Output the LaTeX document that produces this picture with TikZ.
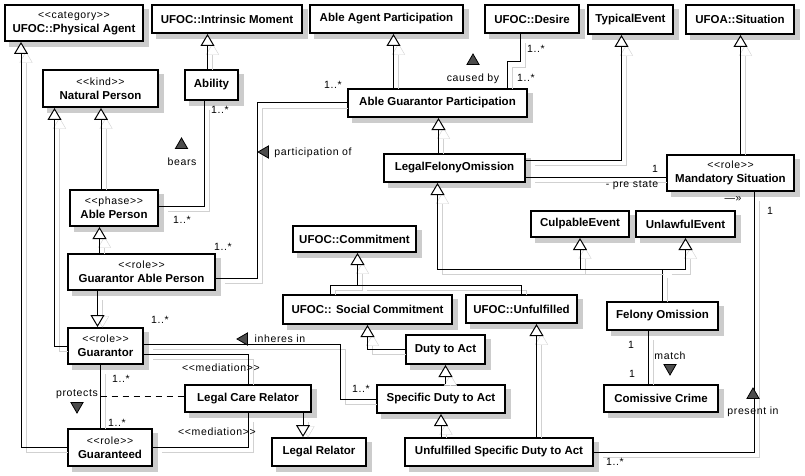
\documentclass[tikz,border=0pt]{standalone}
\usepackage{fontspec}
\setmainfont{Liberation Sans}
\newfontfamily\lblfont[LetterSpace=6,Ligatures=TeXOff]{Liberation Sans}
\usepackage{tikz}
\usetikzlibrary{positioning,arrows.meta,shapes.geometric,backgrounds}

\newcommand{\stereo}[1]{{\lblfont\mdseries\fontsize{10.5}{12}\selectfont <<#1>>}\\}

\begin{document}
\begin{tikzpicture}[
  x=1pt, y=-1pt,
  umlclass/.style={draw, line width=2pt, fill=white, inner sep=2pt,
                   align=center, font=\bfseries\fontsize{11.5}{14}\selectfont},
  dims/.style 2 args={minimum width=#1pt, minimum height=#2pt},
  boxshadow/.style={fill=black!20},
  assoc/.style={line width=1pt,
                preaction={draw=black!18, shorten <=4pt, shorten >=4pt,
                           transform canvas={shift={(5pt,-5pt)}}}},
  gen/.style={assoc, -{Triangle[fill=white, length=12pt, width=14pt]}},
  lbl/.style={font=\lblfont\fontsize{10.5}{12}\selectfont, inner sep=0pt},
  dirmark/.style={regular polygon, regular polygon sides=3, draw,
                  line width=.8pt, fill=black!70, inner sep=0pt,
                  minimum size=14pt}
]
  \useasboundingbox (0,0) rectangle (805,476);

  % top row
  \node[umlclass, dims={138}{36}] (phys) at (74,23) {\stereo{category}UFOC::Physical Agent};
  \node[umlclass, dims={150}{28}] (intr) at (227,19) {UFOC::Intrinsic Moment};
  \node[umlclass, dims={153}{28}] (aap) at (386.5,19) {Able Agent Participation};
  \node[umlclass, dims={94}{28}] (desire) at (532,19) {UFOC::Desire};
  \node[umlclass, dims={85}{29}] (typical) at (630.5,19.5) {TypicalEvent};
  \node[umlclass, dims={108}{29}] (situation) at (740,19.5) {UFOA::Situation};

  % persons and participations
  \node[umlclass, dims={115}{37}] (natural) at (100.5,88.5) {\stereo{kind}Natural Person};
  \node[umlclass, dims={53}{30}] (ability) at (211.5,85) {Ability};
  \node[umlclass, dims={179}{28}] (agp) at (437.5,103) {Able Guarantor Participation};
  \node[umlclass, dims={141}{28}] (lfo) at (454.5,168) {LegalFelonyOmission};
  \node[umlclass, dims={127}{36}] (mandatory) at (730.5,173) {\stereo{role}Mandatory Situation};
  \node[umlclass, dims={88}{36}] (able) at (114,208) {\stereo{phase}Able Person};
  \node[umlclass, dims={147}{36}] (gap) at (141.5,272) {\stereo{role}Guarantor Able Person};

  % commitments and events
  \node[umlclass, dims={123}{26}] (commitment) at (354.5,239) {UFOC::Commitment};
  \node[umlclass, dims={98}{26}] (culpable) at (580,224) {CulpableEvent};
  \node[umlclass, dims={99}{26}] (unlawful) at (685.5,224) {UnlawfulEvent};
  \node[umlclass, dims={169}{29}] (social) at (367.5,309.5) {UFOC:: Social Commitment};
  \node[umlclass, dims={111}{28}] (unfulfilled) at (521.5,309) {UFOC::Unfulfilled};
  \node[umlclass, dims={111}{28}] (felony) at (662.5,316) {Felony Omission};
  \node[umlclass, dims={79}{29}] (duty) at (445.5,349.5) {Duty to Act};
  \node[umlclass, dims={114}{27}] (comissive) at (661,398.5) {Comissive Crime};
  \node[umlclass, dims={128}{28}] (specific) at (441,399) {Specific Duty to Act};
  \node[umlclass, dims={188}{28}] (unfspec) at (499,452) {Unfulfilled Specific Duty to Act};

  % relators
  \node[umlclass, dims={75}{36}] (guarantor) at (105.5,346) {\stereo{role}Guarantor};
  \node[umlclass, dims={126}{27}] (care) at (248,398.5) {Legal Care Relator};
  \node[umlclass, dims={94}{28}] (relator) at (319,452) {Legal Relator};
  \node[umlclass, dims={84}{37}] (guaranteed) at (110,447.5) {\stereo{role}Guaranteed};

  % shadows behind the classes
  \begin{scope}[on background layer]
    \foreach \cls in {phys,intr,aap,desire,typical,situation,natural,ability,agp,lfo,
                    mandatory,able,gap,commitment,culpable,unlawful,social,unfulfilled,
                    felony,duty,comissive,specific,unfspec,guarantor,care,relator,guaranteed}
      \fill[boxshadow] ([shift={(5pt,-5pt)}]\cls.south west) rectangle ([shift={(5pt,-5pt)}]\cls.north east);
  \end{scope}

  % generalizations
  \draw[gen] (guaranteed.west) -| ([xshift=-53pt]phys.south);
  \draw[gen] (guarantor.west) -| ([xshift=-46pt]natural.south);
  \draw[gen] ([xshift=-13pt]able.north) -- ([xshift=-13pt]able.north |- natural.south);
  \draw[gen] ([xshift=-4pt]ability.north) -- ([xshift=-4pt]ability.north |- intr.south);
  \draw[gen] ([xshift=-44pt]agp.north) -- ([xshift=-44pt]agp.north |- aap.south);
  \draw[gen] ([xshift=-16pt]lfo.north) -- ([xshift=-16pt]lfo.north |- agp.south);
  \draw[gen] ([yshift=8pt]lfo.east) -| ([xshift=-9pt]typical.south);
  \draw[gen] ([xshift=10pt]mandatory.north) -- ([xshift=10pt]mandatory.north |- situation.south);
  \draw[gen] ([xshift=-42pt]gap.north) -- ([xshift=-42pt]gap.north |- able.south);
  \draw[gen] ([xshift=-44pt]gap.south) -- ([xshift=-44pt]gap.south |- guarantor.north);

  \coordinate (comjoin) at ([xshift=3pt,yshift=-32pt]commitment.south);
  \draw[gen] ([xshift=-37pt]social.north) |- (comjoin) -- ([xshift=3pt]commitment.south);
  \draw[assoc] (unfulfilled.north) |- (comjoin);

  \coordinate (fojoin) at ([yshift=32pt]felony.north);
  \draw[assoc] (felony.north) -- (fojoin);
  \draw[gen] (fojoin) -| ([xshift=-17pt]lfo.south);
  \draw[gen] (fojoin) -| (culpable.south);
  \draw[gen] (fojoin) -| (unlawful.south);

  \draw[gen] (duty.west) -| (social.south);
  \draw[gen] (specific.north -| duty.south) -- (duty.south);
  \draw[gen] (unfspec.north -| specific.south) -- (specific.south);
  \draw[gen] ([xshift=15pt]unfulfilled.south |- unfspec.north) -- ([xshift=15pt]unfulfilled.south);
  \draw[gen] ([xshift=55pt]care.south) -- ([xshift=55pt]care.south |- relator.north);

  % associations
  \draw[assoc] ([xshift=-7pt]ability.south) |- ([yshift=2pt]able.east);
  \draw[assoc] ([yshift=-6pt]gap.east) -| ([xshift=-90pt]agp.west) -- (agp.west);
  \draw[assoc] ([xshift=70pt]agp.north) |- ([xshift=-12pt,yshift=-28pt]desire.south)
    -- ([xshift=-12pt]desire.south);
  \draw[assoc] ([yshift=-9pt]lfo.east) -- ([yshift=-9pt]lfo.east -| mandatory.west);
  \draw[assoc] ([xshift=24pt]mandatory.south) |- (unfspec.east);
  \draw[assoc] ([xshift=-14pt]felony.south) -- ([xshift=-14pt]felony.south |- comissive.north);
  \draw[assoc] ([yshift=2pt]guarantor.east) -| ([xshift=-36pt]specific.west) -- (specific.west);
  \draw[assoc] ([yshift=-8pt]guarantor.east) -| (care.north);
  \draw[assoc] (guaranteed.east) -| (care.south);
  \draw[assoc] ([xshift=-5pt]guarantor.south) -- coordinate[pos=.5] (protmid)
    ([xshift=-5pt]guarantor.south |- guaranteed.north);
  \draw[line width=1pt, dash pattern=on 6pt off 5pt] (protmid) -- (protmid -| care.west);

  % association names
  \node[lbl] (bears) at (182,162) {bears};
  \node[dirmark] (bearsmark) at (181.5,145) {};
  \node[lbl] (partof) at (313,153) {participation of};
  \node[dirmark, shape border rotate=90] (partofmark) at (265,152) {};
  \node[lbl] (causedby) at (473,79) {caused by};
  \node[dirmark] (causedbymark) at (473,61) {};
  \node[lbl] (prestate) at (632,185) {- pre state};
  \node[lbl] (nav) at (733,199) {—»};
  \node[lbl] (match) at (670,356) {match};
  \node[dirmark, shape border rotate=180] (matchmark) at (670,368) {};
  \node[lbl] (presentin) at (753,412) {present in};
  \node[dirmark] (presentinmark) at (753,395) {};
  \node[lbl] (inheres) at (280,339) {inheres in};
  \node[dirmark, shape border rotate=90] (inheresmark) at (244,339) {};
  \node[lbl] (med1) at (221,368) {<<mediation>>};
  \node[lbl] (med2) at (217,432) {<<mediation>>};
  \node[lbl] (protects) at (77,394) {protects};
  \node[dirmark, shape border rotate=180] (protectsmark) at (77,406) {};

  % multiplicities
  \node[lbl] (m1) at (220,110) {1..*};
  \node[lbl] (m2) at (182,220) {1..*};
  \node[lbl] (m3) at (223,247) {1..*};
  \node[lbl] (m4) at (333,85) {1..*};
  \node[lbl] (m5) at (536,49) {1..*};
  \node[lbl] (m6) at (526,78) {1..*};
  \node[lbl] (m7) at (655,169) {1};
  \node[lbl] (m8) at (770,211) {1};
  \node[lbl] (m9) at (631,345) {1};
  \node[lbl] (m10) at (632,374) {1};
  \node[lbl] (m11) at (615,462) {1..*};
  \node[lbl] (m12) at (160,320) {1..*};
  \node[lbl] (m13) at (361,389) {1..*};
  \node[lbl] (m14) at (121,379) {1..*};
  \node[lbl] (m15) at (117,423) {1..*};
\end{tikzpicture}
\end{document}
